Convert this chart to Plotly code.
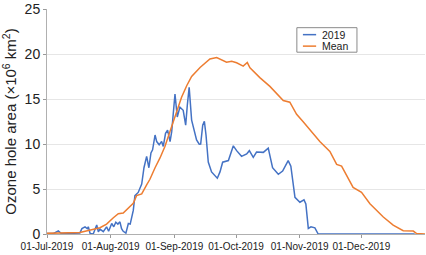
import pandas as pd
import plotly.graph_objects as go

# ---- data ----
start_date = "2019-07-01"

days_2019 = [0, 3, 5.5, 7, 16, 17, 18.5, 19.6, 20.1, 21, 22.5, 24.2, 25, 25.8, 27.4, 29, 30,
             31.5, 32.5, 33.5, 34.5, 35.5, 36.3, 37.1, 38.4, 39.6, 40.5, 42, 42.8, 44.4, 46.1,
             47.2, 48.5, 49.6, 50.6, 51.4, 52.6, 53.4, 54.6, 55.8, 56.6, 57.7, 58.7, 59.9,
             60.7, 61.5, 62.3, 63.4, 64.7, 66.3, 67.5, 68.3, 69.2, 70.4, 71.7, 72.8, 74.1,
             74.8, 75.8, 76.6, 77.4, 78.5, 80.1, 81.8, 82.9, 84.2, 85.5, 88.3, 90.7, 92.3,
             94.7, 97.2, 98.5, 100.4, 102, 105.3, 107.7, 109.8, 112.6, 114.7, 117.4, 118.7,
             120.7, 123.1, 125.1, 126, 127.2, 128.5, 130.4, 132, 179]
area_2019 = [0.05, 0.05, 0.35, 0.05, 0.1, 0.6, 0.8, 0.6, 0.8, 0.05, 0.0, 1.0, 0.25, 0.55, 0.26,
             0.8, 0.3, 1.17, 0.8, 1.3, 1.1, 1.35, 0.6, 0.3, 0.1, 1.17, 1.1, 2.62, 4.26, 4.62,
             5.54, 7.36, 8.63, 7.36, 9.0, 9.36, 11.0, 10.27, 9.91, 10.27, 9.73, 11.18, 11.55,
             10.27, 11.37, 13.19, 15.55, 13.0, 14.1, 13.74, 12.1, 14.3, 16.3, 12.64, 11.55,
             10.46, 9.98, 10.0, 12.1, 12.53, 11.0, 8.0, 6.9, 6.45, 6.2, 6.9, 7.98, 8.16, 9.8,
             9.26, 8.63, 8.89, 9.26, 8.52, 9.1, 9.07, 9.54, 7.36, 6.63, 7.0, 8.16, 7.54, 4.08,
             3.53, 3.79, 3.35, 0.62, 0.8, 0.69, 0.0, 0.0]

days_mean = [0, 8, 16, 25.8, 29, 32.3, 34.7, 37.1, 40.4, 42, 43.6, 46.1, 48.5, 50.1, 52.6, 55,
             57.4, 59.9, 62.3, 65.5, 68, 70.4, 74.5, 77.7, 79.3, 82.6, 85, 87.4, 89.9, 92.3,
             95.5, 97.5, 98.8, 103.6, 108.5, 113.4, 115, 118.2, 121.5, 124.7, 128, 132.8,
             137.7, 141, 143.4, 149, 153.1, 157.2, 163.7, 168.5, 173.4, 178.3, 179.9, 184]
area_mean = [0.07, 0.1, 0.18, 0.7, 1.1, 1.8, 2.26, 2.33, 2.99, 3.42, 4.26, 4.45, 5.46, 6.08,
             7.36, 8.45, 9.73, 11.37, 13.19, 15.19, 16.47, 17.5, 18.5, 19.1, 19.45, 19.6, 19.38,
             19.09, 19.2, 19.02, 18.66, 19.05, 18.47, 17.38, 16.4, 15.19, 14.83, 14.64, 13.3,
             12.46, 11.55, 10.27, 9.18, 7.73, 7.54, 5.17, 4.62, 3.36, 1.89, 0.98, 0.36, 0.33,
             0.05, 0.0]

tick_dates = ["2019-07-01", "2019-08-01", "2019-09-01", "2019-10-01", "2019-11-01", "2019-12-01"]
tick_labels = ["01-Jul-2019", "01-Aug-2019", "01-Sep-2019", "01-Oct-2019", "01-Nov-2019", "01-Dec-2019"]
y_ticks = [0, 5, 10, 15, 20, 25]
series_names = ["2019", "Mean"]
series_colors = ["#4472C4", "#ED7D31"]

t0 = pd.Timestamp(start_date)
x_2019 = t0 + pd.to_timedelta(days_2019, unit="D")
x_mean = t0 + pd.to_timedelta(days_mean, unit="D")

FONT = "Liberation Sans, Arial, Helvetica, sans-serif"

fig = go.Figure()
fig.add_trace(go.Scatter(x=x_2019, y=area_2019, mode="lines", name=series_names[0],
                         line=dict(color=series_colors[0], width=1.5)))
fig.add_trace(go.Scatter(x=x_mean, y=area_mean, mode="lines", name=series_names[1],
                         line=dict(color=series_colors[1], width=1.5)))

fig.update_layout(
    width=426, height=255,
    margin=dict(l=47, r=1, t=5, b=21),
    paper_bgcolor="white", plot_bgcolor="white",
    showlegend=False,
    font=dict(family=FONT, color="#222222"),
)
fig.update_xaxes(
    type="date", range=["2019-07-01", "2020-01-01"],
    tickvals=tick_dates, ticktext=tick_labels,
    tickfont=dict(size=10, family=FONT, color="#222222"),
    ticks="outside", ticklen=3, tickcolor="#999999",
    showline=True, linecolor="#b0b0b0", linewidth=1,
    showgrid=False, zeroline=False,
)
fig.update_yaxes(
    range=[0, 25], tickvals=y_ticks,
    tickfont=dict(size=14, family=FONT, color="#222222"),
    ticks="outside", ticklen=3, tickcolor="#999999",
    ticklabeloverflow="allow",
    showline=True, linecolor="#b0b0b0", linewidth=1,
    showgrid=True, gridcolor="#e6e6e6", gridwidth=1, zeroline=False,
    title=dict(text="Ozone hole area (×10<sup>6</sup> km<sup>2</sup>)",
               font=dict(size=15, family=FONT, color="#222222"), standoff=6),
)

# custom compact legend
fig.add_shape(type="rect", xref="x domain", yref="y domain",
              x0=0.661, x1=0.820, y0=0.808, y1=0.917,
              line=dict(color="#8a8a8a", width=1), fillcolor="white", layer="above")
for name, col, yy in zip(series_names, series_colors, [0.886, 0.835]):
    fig.add_shape(type="line", xref="x domain", yref="y domain",
                  x0=0.677, x1=0.712, y0=yy, y1=yy,
                  line=dict(color=col, width=1.5), layer="above")
    fig.add_annotation(xref="x domain", yref="y domain", x=0.722, y=yy,
                       text=name, showarrow=False, xanchor="left", yanchor="middle",
                       font=dict(size=10.5, family=FONT, color="#222222"))

fig.write_html("out.html",
               config={"displayModeBar": False},
               post_script="document.body.style.margin='0';document.body.style.overflow='hidden';")
